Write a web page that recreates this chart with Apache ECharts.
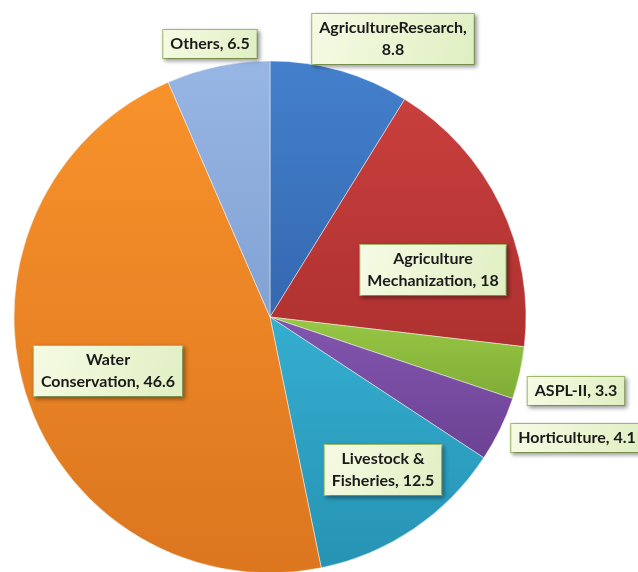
<!DOCTYPE html>
<html>
<head>
<meta charset="utf-8">
<script src="https://cdn.jsdelivr.net/npm/echarts@6/dist/echarts.min.js"></script>
<style>
  html, body { margin: 0; padding: 0; background: #fff; }
  #chart { width: 638px; height: 572px; }
</style>
</head>
<body>
<div id="chart"></div>
<script>
// slices, clockwise from 12 o'clock
const names = ['AgricultureResearch', 'Agriculture Mechanization', 'ASPL-II', 'Horticulture', 'Livestock & Fisheries', 'Water Conservation', 'Others']
const values = [8.8, 18, 3.3, 4.1, 12.5, 46.6, 6.5]

// how each label wraps
const labelLines = [
  'AgricultureResearch,\n8.8',
  'Agriculture\nMechanization, 18',
  'ASPL-II, 3.3',
  'Horticulture, 4.1',
  'Livestock &\nFisheries, 12.5',
  'Water\nConservation, 46.6',
  'Others, 6.5'
]

// label box centres (px)
const labelPos = [[393, 39], [433, 270], [576, 391], [577, 438], [383, 470], [108, 371], [210, 44]]

// top / bottom shade of each slice
const colors = [
  ['#4480cc', '#3468b0'],
  ['#c83f3d', '#ae3130'],
  ['#98c846', '#80ac35'],
  ['#8256ae', '#6c4294'],
  ['#35aed0', '#2693b4'],
  ['#f8922b', '#dc761f'],
  ['#97b6e4', '#82a2d4']
]

const chart = echarts.init(document.getElementById('chart'))

const data = names.map((n, i) => ({
  name: n,
  value: values[i],
  itemStyle: {
    color: {
      type: 'linear', x: 0, y: 0, x2: 0, y2: 1,
      colorStops: [{offset: 0, color: colors[i][0]}, {offset: 1, color: colors[i][1]}]
    }
  }
}))

const option = {
  animation: false,
  series: [
    {
      type: 'pie',
      center: [270, 317],
      radius: 256,
      startAngle: 90,
      clockwise: true,
      avoidLabelOverlap: false,
      itemStyle: {
        borderColor: 'rgba(255,255,255,0.45)',
        borderWidth: 1
      },
      label: {
        show: true,
        position: 'outside',
        formatter: function (p) {
          return labelLines[p.dataIndex]
        },
        fontFamily: 'Lato',
        fontWeight: 'bold',
        fontSize: 16,
        lineHeight: 22,
        color: '#1a1a1a',
        align: 'center',
        backgroundColor: {
          type: 'linear', x: 0, y: 0, x2: 1, y2: 1,
          colorStops: [{offset: 0, color: '#f6fbe4'}, {offset: 1, color: '#e0efc2'}]
        },
        borderColor: '#a3c06a',
        borderWidth: 1,
        padding: [4, 7, 2, 7],
        shadowBlur: 4,
        shadowColor: 'rgba(0,0,0,0.35)',
        shadowOffsetX: 2,
        shadowOffsetY: 2
      },
      labelLine: { show: false },
      labelLayout: function (params) {
        const p = labelPos[params.dataIndex]
        return { x: p[0], y: p[1], align: 'center', verticalAlign: 'middle' }
      },
      data: data
    }
  ]
}

chart.setOption(option)
</script>
</body>
</html>
